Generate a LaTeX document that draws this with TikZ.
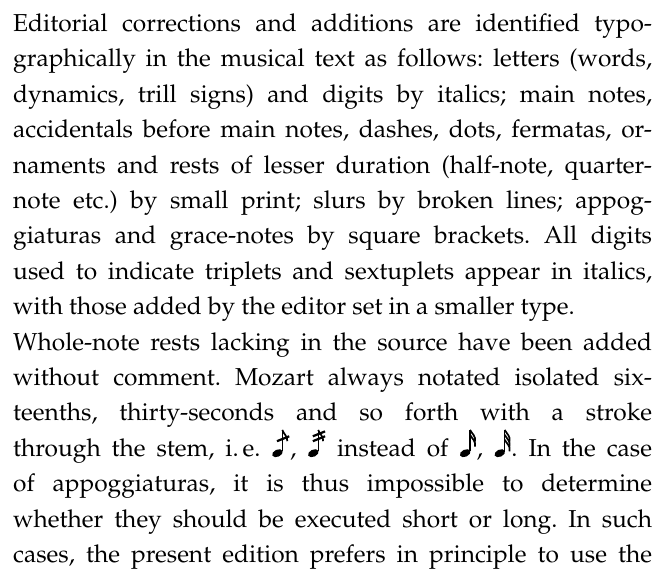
\documentclass[tikz,border=0pt]{standalone}
\usepackage[T1]{fontenc}
\usepackage{palatino}
\frenchspacing
\newcommand{\jline}[1]{\makebox[\linewidth][s]{#1}}
\newcommand{\lline}[1]{\makebox[\linewidth][l]{#1}}
\newcommand{\mzhead}{\fill[rotate around={25:(0.24,0.13)}] (0.24,0.13) ellipse (0.23 and 0.145);\draw[line width=0.05em] (0.44,0.2) -- (0.44,1.08);}
\newcommand{\mzstroked}[1]{\tikz[baseline=0pt,x=1em,y=1em]{\mzhead
  \draw[line width=0.07em] (0.44,1.08) .. controls (0.5,0.9) and (0.66,0.82) .. (0.64,0.62);
  \foreach \k in {1,...,#1}{\draw[line width=0.09em] (0.22,{0.42+0.2*\k}) -- (0.72,{0.62+0.2*\k});}}}
\newcommand{\mzflags}[1]{\tikz[baseline=0pt,x=1em,y=1em]{\mzhead
  \foreach \k in {1,...,#1}{\draw[line width=0.07em] (0.44,{1.08-0.2*(\k-1)}) .. controls (0.52,{0.92-0.2*(\k-1)}) and (0.68,{0.84-0.2*(\k-1)}) .. (0.64,{0.6-0.2*(\k-1)});}}}
\tikzset{para/.style={anchor=base west,inner sep=0pt,text width=260.8pt,align=justify,font=\fontsize{10}{14.45}\selectfont}}
\begin{document}
\begin{tikzpicture}
\useasboundingbox (0,0) rectangle (269pt,232.7pt);
\node[para] (txt) at (5.2pt,219.8pt) {%
\jline{Editorial corrections and additions are identified typo-}\\
\jline{graphically in the musical text as follows: letters (words,}\\
\jline{dynamics, trill signs) and digits by italics; main notes,}\\
\jline{accidentals before main notes, dashes, dots, fermatas, or-}\\
\jline{naments and rests of lesser duration (half-note, quarter-}\\
\jline{note etc.) by small print; slurs by broken lines; appog-}\\
\jline{giaturas and grace-notes by square brackets. All digits}\\
\jline{used to indicate triplets and sextuplets appear in italics,}\\
\lline{with those added by the editor set in a smaller type.}\\
\jline{Whole-note rests lacking in the source have been added}\\
\jline{without comment. Mozart always notated isolated six-}\\
\jline{teenths, thirty-seconds and so forth with a stroke}\\
\jline{through the stem, i.\,e. \mzstroked{1}, \mzstroked{2} instead of \mzflags{2}, \mzflags{3}. In the case}\\
\jline{of appoggiaturas, it is thus impossible to determine}\\
\jline{whether they should be executed short or long. In such}\\
\jline{cases, the present edition prefers in principle to use the}};
\end{tikzpicture}
\end{document}
